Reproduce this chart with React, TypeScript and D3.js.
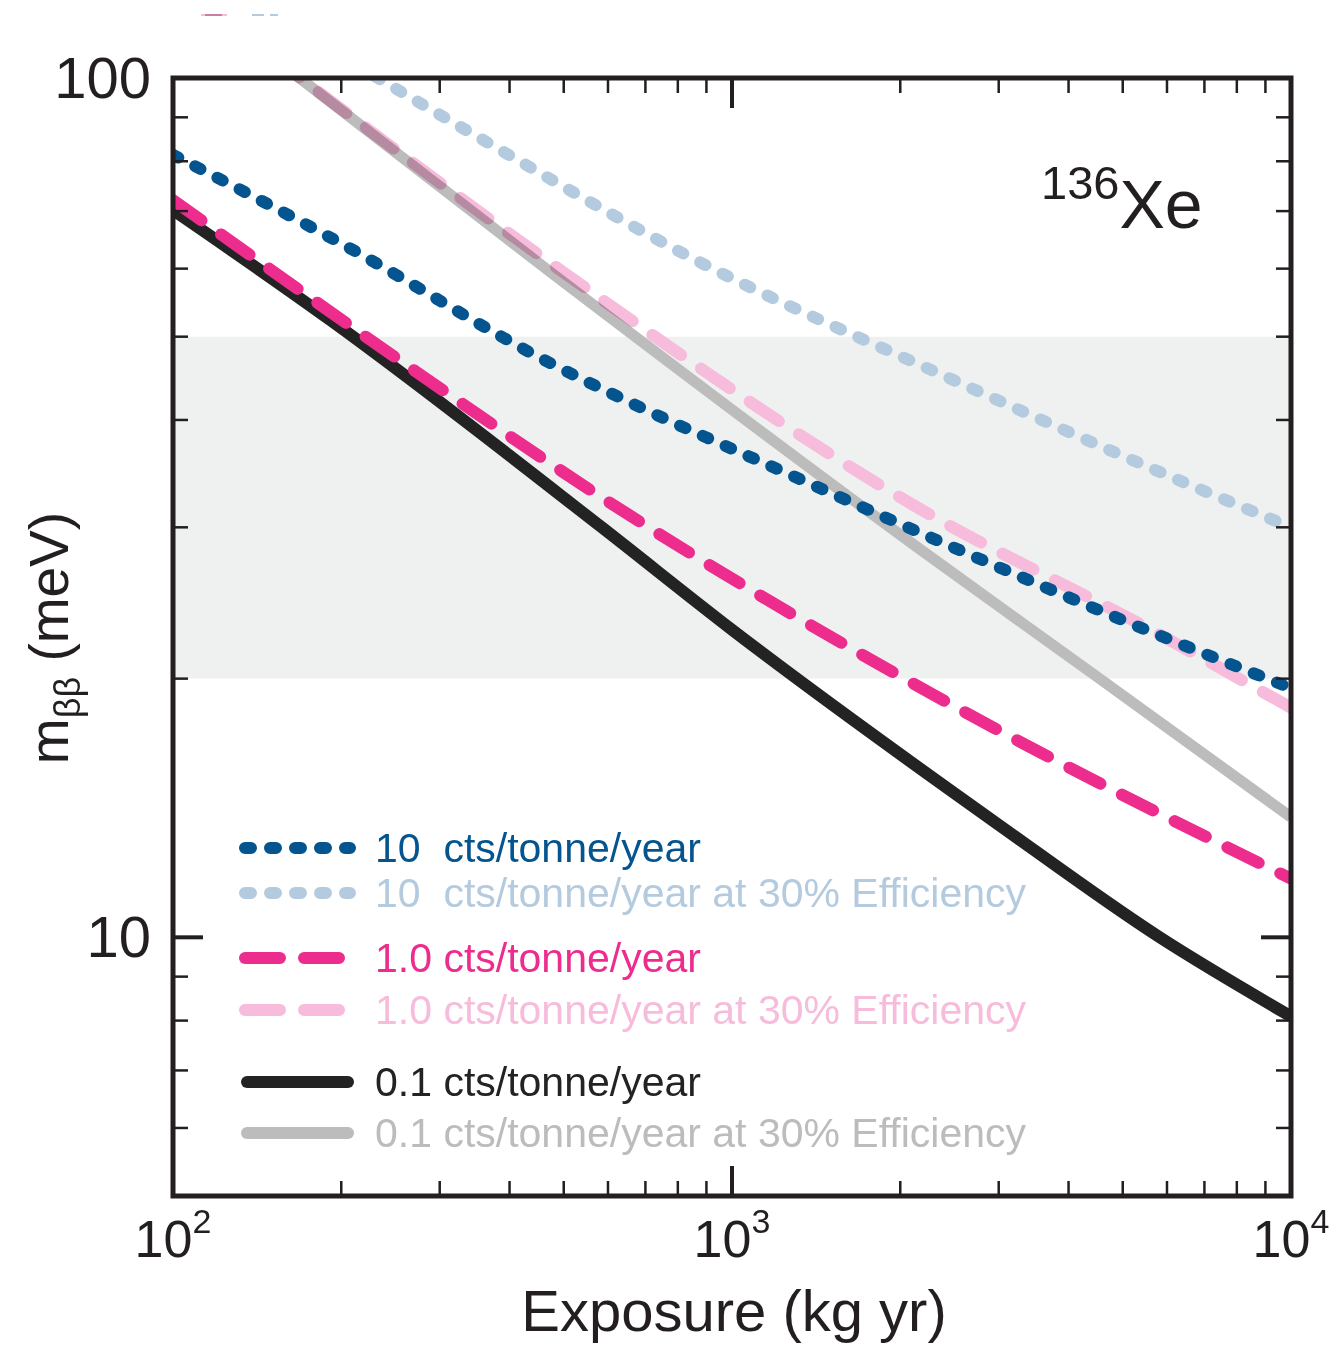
import React from "react";
import * as d3 from "d3";

// ---- data ----
const xTicksMajor = [100, 1000, 10000];
const xTickExps = ["2", "3", "4"];
const yTickLabels = ["10", "100"];
const bandRange = [20, 50];

const blackX = [100, 191, 581, 1000, 3009, 5822, 10000];
const blackY = [70.2, 52.3, 30.1, 22.8, 13.5, 10.0, 8.09];

const grayX = [150, 472.5, 2136, 4546, 10000];
const grayY = [106, 59.5, 28.5, 20.0, 13.8];

const pinkX = [100, 254.7, 580.6, 2605, 10000];
const pinkY = [72.1, 46.9, 32.6, 18.3, 11.7];

const lightPinkX = [150, 492.3, 2136, 5753, 10000];
const lightPinkY = [106, 59.8, 31.7, 22.6, 18.5];

const blueX = [100, 199, 472.5, 684.6, 1214, 2321, 5589, 10000];
const blueY = [81.4, 64.3, 46.6, 41.4, 35.0, 29.0, 22.7, 19.5];

const lightBlueX = [210, 384.6, 841, 2418, 6673, 10000];
const lightBlueY = [104, 82.5, 61.9, 44.9, 33.5, 30.0];

const legendLabels = [
  "10  cts/tonne/year",
  "10  cts/tonne/year at 30% Efficiency",
  "1.0 cts/tonne/year",
  "1.0 cts/tonne/year at 30% Efficiency",
  "0.1 cts/tonne/year",
  "0.1 cts/tonne/year at 30% Efficiency",
];

const W = 1339;
const H = 1345;
const L = 173, R = 1291, T = 78, B = 1196;
const FONT = "'Liberation Sans', Arial, Helvetica, sans-serif";

const x = d3.scaleLog().domain([100, 10000]).range([L, R]);
const y = d3.scaleLog().domain([5, 100]).range([B, T]);

const C = {
  blue: "#04558f",
  lightBlue: "#b4cbdf",
  pink: "#ec2d8e",
  lightPink: "#f7bcdb",
  black: "#222322",
  gray: "#bcbcbc",
  band: "#eff1f0",
  frame: "#231f20",
};

const DOT = "6 19";
const DASH = "35 24";

const series = [
  { xs: grayX, ys: grayY, color: C.gray, dash: null, w: 11, blend: true },
  { xs: lightPinkX, ys: lightPinkY, color: C.lightPink, dash: DASH, w: 12, blend: true },
  { xs: lightBlueX, ys: lightBlueY, color: C.lightBlue, dash: DOT, w: 12, blend: true },
  { xs: blackX, ys: blackY, color: C.black, dash: null, w: 12, blend: false },
  { xs: pinkX, ys: pinkY, color: C.pink, dash: DASH, w: 12, blend: false },
  { xs: blueX, ys: blueY, color: C.blue, dash: DOT, w: 12, blend: false },
];

const legendRows = [
  { color: C.blue, dash: DOT, y: 848 },
  { color: C.lightBlue, dash: DOT, y: 893 },
  { color: C.pink, dash: DASH, y: 958 },
  { color: C.lightPink, dash: DASH, y: 1010 },
  { color: C.black, dash: null, y: 1082 },
  { color: C.gray, dash: null, y: 1133 },
];

const line = d3
  .line<[number, number]>()
  .x((d) => x(d[0]))
  .y((d) => y(d[1]))
  .curve(d3.curveMonotoneX);

export default function App() {
  const minorX: number[] = [];
  for (const dec of [100, 1000]) for (let k = 2; k <= 9; k++) minorX.push(dec * k);
  const minorY: number[] = [];
  for (const dec of [1, 10]) for (let k = 2; k <= 9; k++) {
    const v = dec * k;
    if (v > 5 && v < 100) minorY.push(v);
  }
  const majorY = [10, 100];

  return (
    <svg
      width={W}
      height={H}
      style={{ position: "absolute", left: 0, top: 0, background: "#fff" }}
      fontFamily={FONT}
    >
      <defs>
        <clipPath id="plot">
          <rect x={L} y={T} width={R - L} height={B - T} />
        </clipPath>
      </defs>
      <rect width={W} height={H} fill="#fff" />

      {/* stray legend remnants at top */}
      <line x1={201} x2={227} y1={15} y2={15} stroke={C.lightPink} strokeWidth={2} />
      <line x1={205} x2={222} y1={15} y2={15} stroke="#c77fa6" strokeWidth={2} />
      <line x1={252} x2={264} y1={15} y2={15} stroke={C.lightBlue} strokeWidth={2} />
      <line x1={270} x2={278} y1={15} y2={15} stroke={C.lightBlue} strokeWidth={2} />

      {/* band */}
      <rect
        x={L}
        y={y(bandRange[1])}
        width={R - L}
        height={y(bandRange[0]) - y(bandRange[1])}
        fill={C.band}
      />

      <g clipPath="url(#plot)">
        {series.map((s, i) => (
          <path
            key={i}
            d={line(s.xs.map((v, j) => [v, s.ys[j]] as [number, number])) || ""}
            fill="none"
            stroke={s.color}
            strokeWidth={s.w}
            strokeDasharray={s.dash || undefined}
            strokeLinecap={s.dash ? "round" : "butt"}
            style={s.blend ? { mixBlendMode: "multiply" } : undefined}
          />
        ))}
      </g>

      {/* ticks */}
      <g stroke={C.frame} strokeWidth={2.5}>
        {minorX.map((v) => (
          <g key={"mx" + v}>
            <line x1={x(v)} x2={x(v)} y1={B} y2={B - 15} />
            <line x1={x(v)} x2={x(v)} y1={T} y2={T + 15} />
          </g>
        ))}
        {xTicksMajor.map((v) => (
          <g key={"Mx" + v}>
            <line x1={x(v)} x2={x(v)} y1={B} y2={B - 30} strokeWidth={4} />
            <line x1={x(v)} x2={x(v)} y1={T} y2={T + 30} strokeWidth={4} />
          </g>
        ))}
        {minorY.map((v) => (
          <g key={"my" + v}>
            <line x1={L} x2={L + 15} y1={y(v)} y2={y(v)} />
            <line x1={R} x2={R - 15} y1={y(v)} y2={y(v)} />
          </g>
        ))}
        {majorY.map((v) => (
          <g key={"My" + v}>
            <line x1={L} x2={L + 30} y1={y(v)} y2={y(v)} strokeWidth={4} />
            <line x1={R} x2={R - 30} y1={y(v)} y2={y(v)} strokeWidth={4} />
          </g>
        ))}
      </g>

      {/* frame */}
      <rect x={L} y={T} width={R - L} height={B - T} fill="none" stroke={C.frame} strokeWidth={5} />

      {/* y tick labels */}
      {majorY.map((v, i) => (
        <text
          key={"yl" + v}
          x={151}
          y={y(v) + 20}
          textAnchor="end"
          fontSize={58}
          fill={C.frame}
        >
          {yTickLabels[i]}
        </text>
      ))}

      {/* x tick labels */}
      {xTicksMajor.map((v, i) => (
        <text
          key={"xl" + v}
          x={x(v)}
          y={1257}
          textAnchor="middle"
          fontSize={52}
          fill={C.frame}
        >
          10
          <tspan fontSize={34} dy={-24}>
            {xTickExps[i]}
          </tspan>
        </text>
      ))}

      {/* axis titles */}
      <text x={734} y={1331} textAnchor="middle" fontSize={58} fill={C.frame}>
        Exposure (kg yr)
      </text>
      <text
        transform="translate(68,638) rotate(-90)"
        textAnchor="middle"
        fontSize={55}
        fill={C.frame}
      >
        m
        <tspan fontSize={36} dy={12}>
          ββ
        </tspan>
        <tspan dy={-12}> (meV)</tspan>
      </text>

      {/* isotope label */}
      <text x={1041} y={228} fontSize={68} fill={C.frame}>
        <tspan fontSize={47} dy={-29}>
          136
        </tspan>
        <tspan dy={29}>Xe</tspan>
      </text>

      {/* legend */}
      {legendRows.map((r, i) => (
        <g key={"lg" + i}>
          <line
            x1={r.dash ? 245 : 247}
            x2={r.dash ? 350 : 348}
            y1={r.y}
            y2={r.y}
            stroke={r.color}
            strokeWidth={12}
            strokeLinecap="round"
            strokeDasharray={r.dash || undefined}
          />
          <text
            x={375}
            y={r.y + 14}
            fontSize={41}
            fill={r.color}
            style={{ whiteSpace: "pre" }}
          >
            {legendLabels[i]}
          </text>
        </g>
      ))}
    </svg>
  );
}
